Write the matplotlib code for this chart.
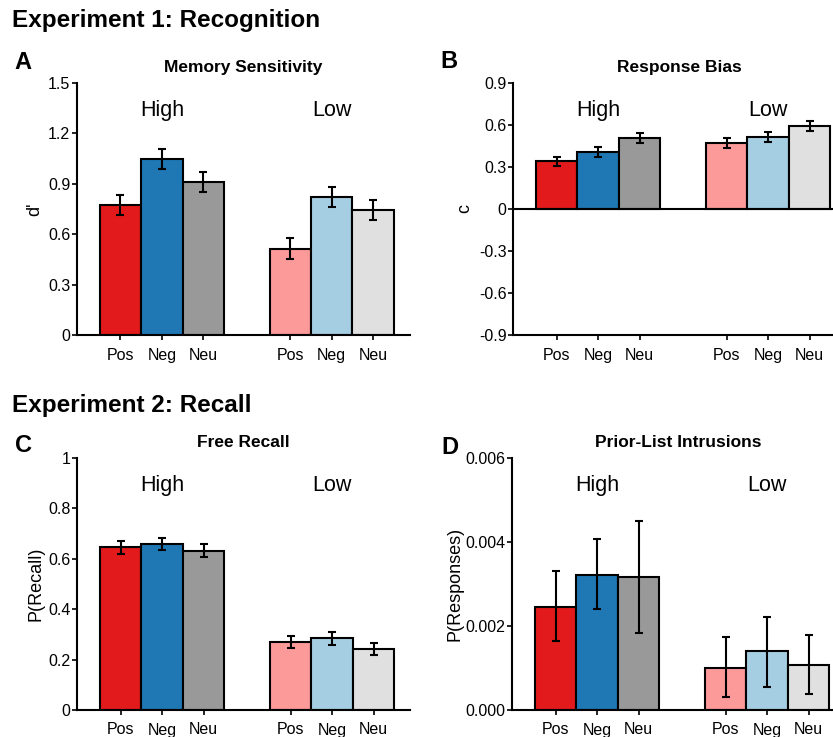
import matplotlib
matplotlib.use("Agg")
import matplotlib.pyplot as plt
import numpy as np

plt.rcParams['font.family'] = ['Liberation Sans', 'DejaVu Sans']

# ---------------- data ----------------
conditions = ["Pos", "Neg", "Neu"]
groups = ["High", "Low"]

colors_high = ["#e31a1c", "#1f78b4", "#999999"]
colors_low = ["#fb9a99", "#a6cee3", "#e0e0e0"]

# A: memory sensitivity d'
dprime_high = [0.775, 1.048, 0.911]
dprime_high_se = [0.060, 0.060, 0.057]
dprime_low = [0.514, 0.820, 0.742]
dprime_low_se = [0.062, 0.058, 0.060]

# B: response bias c
bias_high = [0.341, 0.403, 0.507]
bias_high_se = [0.032, 0.035, 0.034]
bias_low = [0.471, 0.514, 0.591]
bias_low_se = [0.035, 0.034, 0.035]

# C: free recall
recall_high = [0.645, 0.658, 0.632]
recall_high_se = [0.025, 0.023, 0.025]
recall_low = [0.270, 0.284, 0.242]
recall_low_se = [0.023, 0.025, 0.023]

# D: prior-list intrusions (asymmetric intervals)
pli_high = [0.00246, 0.00323, 0.00318]
pli_high_lo = [0.00164, 0.00240, 0.00183]
pli_high_hi = [0.00331, 0.00408, 0.00451]
pli_low = [0.00101, 0.00140, 0.00108]
pli_low_lo = [0.00030, 0.00056, 0.00038]
pli_low_hi = [0.00174, 0.00222, 0.00178]

# ---------------- figure ----------------
W, H = 833, 737
fig = plt.figure(figsize=(W / 100, H / 100), dpi=100)


def px_axes(left, top, right, bottom):
    return fig.add_axes([left / W, 1 - bottom / H, (right - left) / W, (bottom - top) / H])


group_offsets = [0.0, 4.1]
LW = 1.5


def draw_panel(ax, vals_h, err_h, vals_l, err_l, ylim, yticks, yticklabels,
               ylabel, title, zero_line=False):
    for g, (vals, err, cols) in enumerate([(vals_h, err_h, colors_high),
                                           (vals_l, err_l, colors_low)]):
        x = group_offsets[g] + np.arange(len(conditions))
        ax.bar(x, vals, width=1.0, color=cols, edgecolor="black", linewidth=LW, zorder=2)
        ax.errorbar(x, vals, yerr=err, fmt="none", ecolor="black",
                    elinewidth=1.5, capsize=3, capthick=1.5, zorder=3)
        ax.text(group_offsets[g] + 1, 0.89, groups[g], transform=ax.get_xaxis_transform(),
                ha="center", va="center", fontsize=15.5)
    xt = np.concatenate([group_offsets[g] + np.arange(len(conditions)) for g in range(2)])
    ax.set_xticks(xt)
    ax.set_xticklabels(conditions * 2, fontsize=11.5)
    ax.set_xlim(-1.06, 6.98)
    ax.set_ylim(*ylim)
    ax.set_yticks(yticks)
    ax.set_yticklabels(yticklabels, fontsize=11.5)
    for s in ["top", "right"]:
        ax.spines[s].set_visible(False)
    for s in ["left", "bottom"]:
        ax.spines[s].set_linewidth(LW)
    ax.tick_params(axis="y", length=3.5, width=1.2, pad=1)
    ax.tick_params(axis="x", length=3.5, width=1.2, pad=5.5)
    if zero_line:
        ax.axhline(0, color="black", linewidth=LW, zorder=4)
    ax.set_title(title, fontsize=12.5, fontweight="bold", pad=8)
    ax.set_ylabel(ylabel, fontsize=13)


axA = px_axes(76.5, 83, 409.5, 335)
axB = px_axes(512.7, 82.7, 846, 335)
axC = px_axes(76.7, 457.7, 410, 710)
axD = px_axes(511.7, 458.3, 845, 710)

draw_panel(axA, dprime_high, dprime_high_se, dprime_low, dprime_low_se,
           (0, 1.5), [0, 0.3, 0.6, 0.9, 1.2, 1.5], ["0", "0.3", "0.6", "0.9", "1.2", "1.5"],
           "d'", "Memory Sensitivity")
draw_panel(axB, bias_high, bias_high_se, bias_low, bias_low_se,
           (-0.9, 0.9), [-0.9, -0.6, -0.3, 0, 0.3, 0.6, 0.9],
           ["-0.9", "-0.6", "-0.3", "0", "0.3", "0.6", "0.9"],
           "c", "Response Bias", zero_line=True)
draw_panel(axC, recall_high, recall_high_se, recall_low, recall_low_se,
           (0, 1), [0, 0.2, 0.4, 0.6, 0.8, 1.0], ["0", "0.2", "0.4", "0.6", "0.8", "1"],
           "P(Recall)", "Free Recall")

err_dh = [np.array(pli_high) - np.array(pli_high_lo), np.array(pli_high_hi) - np.array(pli_high)]
err_dl = [np.array(pli_low) - np.array(pli_low_lo), np.array(pli_low_hi) - np.array(pli_low)]
draw_panel(axD, pli_high, err_dh, pli_low, err_dl,
           (0, 0.006), [0, 0.002, 0.004, 0.006], ["0.000", "0.002", "0.004", "0.006"],
           "P(Responses)", "Prior-List Intrusions")

# y label positions (right edge of rotated label, figure pixels)
for ax, xpix in [(axA, 43), (axB, 473), (axC, 45), (axD, 463)]:
    bb = ax.get_position()
    ax.yaxis.set_label_coords((xpix / W - bb.x0) / bb.width, 0.5)

# section titles and panel letters
fig.text(12.5 / W, 1 - 21 / H, "Experiment 1: Recognition", fontsize=17.5,
         fontweight="bold", ha="left", va="center")
fig.text(12.5 / W, 1 - 405 / H, "Experiment 2: Recall", fontsize=17.5,
         fontweight="bold", ha="left", va="center")
for letter, xp, yp in [("A", 14, 62.5), ("B", 440, 61), ("C", 15, 446), ("D", 441, 447)]:
    fig.text(xp / W, 1 - yp / H, letter, fontsize=17, fontweight="bold",
             ha="left", va="center")

fig.savefig("out.png", dpi=100)
